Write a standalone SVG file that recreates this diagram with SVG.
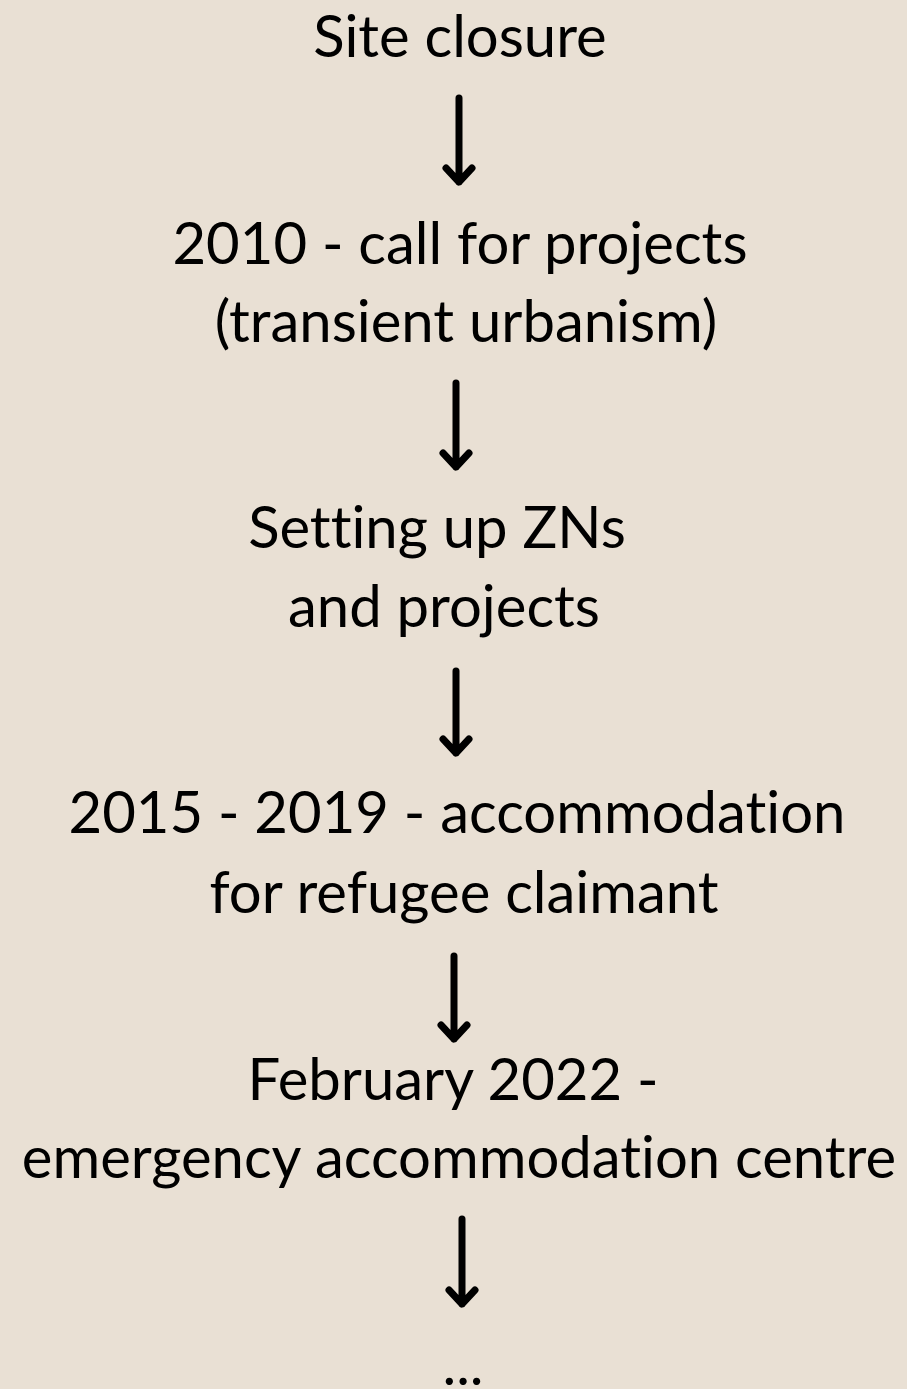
<svg xmlns="http://www.w3.org/2000/svg" width="907" height="1389" viewBox="0 0 907 1389">
<style>
text{font-family:Lato,"Noto Sans",sans-serif;font-size:58px;fill:#000;text-anchor:middle;font-variant-ligatures:none;font-feature-settings:"liga" 0}
.a{stroke:#000;stroke-width:7;fill:none;stroke-linecap:round;stroke-linejoin:round}
</style>
<rect width="907" height="1389" fill="#e9e0d4"/>
<g id="n1"><text x="460" y="57">Site closure</text></g>
<g id="n2"><text x="460" y="264">2010 - call for projects</text><text x="466" y="342">(transient urbanism)</text></g>
<g id="n3"><text x="437" y="548">Setting up ZNs</text><text x="444" y="627">and projects</text></g>
<g id="n4"><text x="457" y="833">2015 - 2019 - accommodation</text><text x="464" y="913">for refugee claimant</text></g>
<g id="n5"><text x="453" y="1100">February 2022 -</text><text x="459" y="1178">emergency accommodation centre</text></g>
<g id="n6"><text x="463" y="1385">...</text></g>
<g id="connectors">
<path class="a" d="M459 98V182M446 168L459 182L472 168"/>
<path class="a" d="M456 383V467M443 453L456 467L469 453"/>
<path class="a" d="M456 671V753M443 739L456 753L469 739"/>
<path class="a" d="M454 956V1039M441 1025L454 1039L467 1025"/>
<path class="a" d="M462 1219V1304M449 1290L462 1304L475 1290"/>
</g>
</svg>
